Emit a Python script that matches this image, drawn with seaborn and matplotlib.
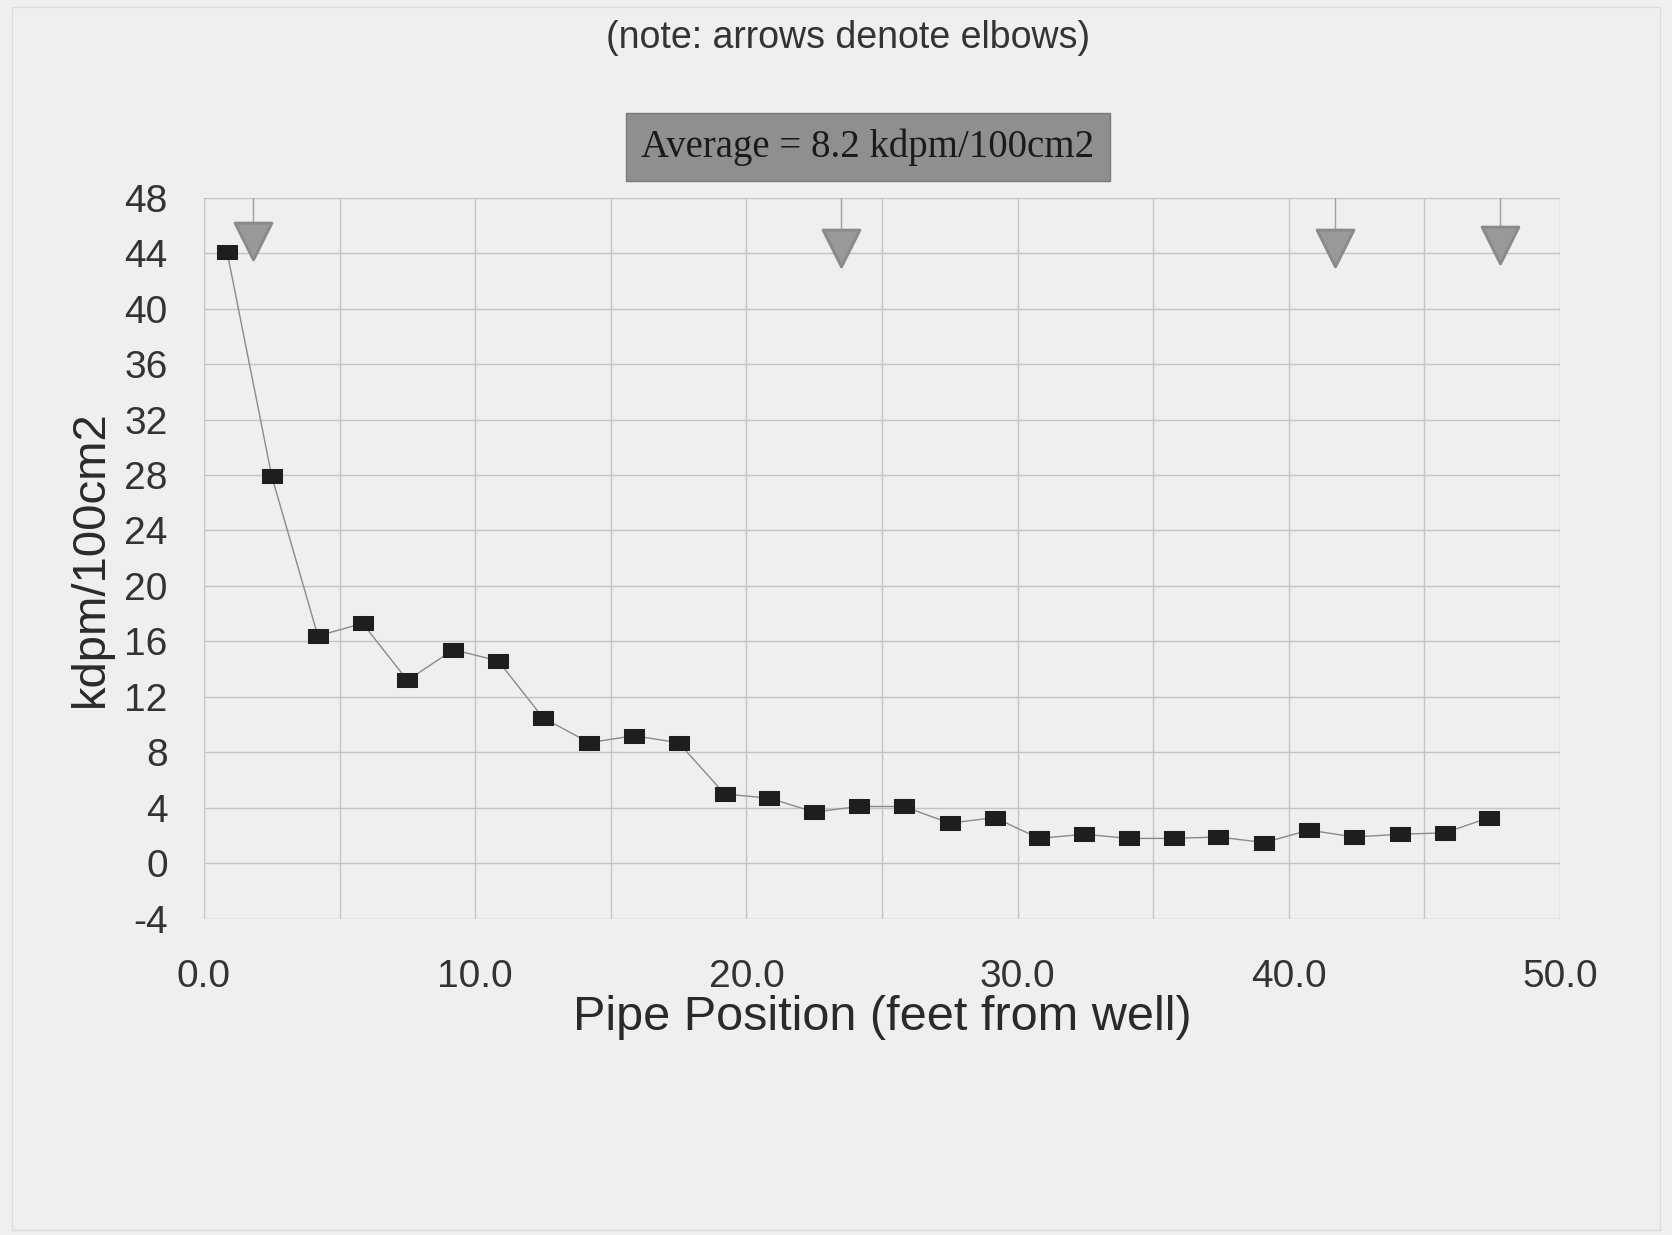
import numpy as np
import pandas as pd
import matplotlib
matplotlib.use('Agg')
import matplotlib.pyplot as plt
import seaborn as sns

# =============================================
# DATA
# =============================================
position_ft = [0.85, 2.5, 4.2, 5.85, 7.5, 9.2, 10.85, 12.5, 14.2, 15.85,
               17.5, 19.2, 20.85, 22.5, 24.15, 25.8, 27.5, 29.15, 30.8, 32.45,
               34.1, 35.75, 37.4, 39.1, 40.75, 42.4, 44.1, 45.75, 47.4]
kdpm = [44.1, 27.9, 16.4, 17.3, 13.2, 15.4, 14.6, 10.5, 8.7, 9.2,
        8.7, 5.0, 4.7, 3.7, 4.1, 4.1, 2.9, 3.3, 1.8, 2.1,
        1.8, 1.8, 1.9, 1.5, 2.4, 1.9, 2.1, 2.2, 3.3]
elbow_ft = [1.8, 23.5, 41.7, 47.8]
elbow_y = [44.9, 44.4, 44.4, 44.6]
average_label = "Average = 8.2 kdpm/100cm2"
note_text = "(note: arrows denote elbows)"

df = pd.DataFrame({'Position': position_ft, 'kdpm': kdpm})

# =============================================
# STYLE
# =============================================
sns.set_style('whitegrid')
plt.rcParams['font.family'] = ['Liberation Sans', 'DejaVu Sans']
plt.rcParams['axes.unicode_minus'] = False
bg = '#efefed'

fig = plt.figure(figsize=(16.72, 12.35), dpi=100, facecolor=bg)
ax = fig.add_axes([0.122, 0.256, 0.811, 0.584])
ax.set_facecolor(bg)

# faint frame round the page, like the scan
fig.patches.append(plt.Rectangle((0.007, 0.004), 0.986, 0.99, transform=fig.transFigure,
                                 fill=False, edgecolor='#dcdcda', linewidth=1.0))

# rectangular marker, a bit wider than tall
rect = [(-1.3, -1), (1.3, -1), (1.3, 1), (-1.3, 1), (-1.3, -1)]
sns.lineplot(data=df, x='Position', y='kdpm', ax=ax, color='#8a8a8a', linewidth=1.0,
             marker=rect, markersize=14, markerfacecolor='#1e1e1e',
             markeredgecolor='#1e1e1e', zorder=3)

# elbow arrows: thin line from top plus grey triangle
for xe, ye in zip(elbow_ft, elbow_y):
    ax.plot([xe, xe], [48, ye], color='#a0a0a0', linewidth=1.0, zorder=2)
sns.scatterplot(x=elbow_ft, y=elbow_y, ax=ax, marker='v', s=700,
                color='#999999', edgecolor='#8a8a8a', zorder=4, legend=False)

ax.set_xlim(0, 50)
ax.set_ylim(-4, 48)
ax.set_xticks(np.arange(0, 51, 10))
ax.set_xticklabels([f'{v:.1f}' for v in np.arange(0, 51, 10)])
ax.set_xticks(np.arange(5, 50, 10), minor=True)
ax.set_yticks(np.arange(-4, 49, 4))
ax.grid(which='both', color='#c4c4c4', linewidth=1.0)
for s in ax.spines.values():
    s.set_visible(False)
ax.tick_params(axis='both', which='both', length=10, width=1.0, color='#c4c4c4',
               labelsize=28, labelcolor='#333333')
ax.tick_params(axis='y', pad=16)
ax.tick_params(axis='x', pad=19)

ax.set_xlabel('Pipe Position (feet from well)', fontsize=35, color='#2a2a2a', labelpad=0)
ax.set_ylabel('kdpm/100cm2', fontsize=34, color='#2a2a2a', labelpad=8)

fig.text(0.507, 0.969, note_text, ha='center', va='center', fontsize=27, color='#333333')
fig.text(0.519, 0.881, average_label, ha='center', va='center', fontsize=28,
         family=['Liberation Serif', 'DejaVu Serif'], color='#1a1a1a',
         bbox=dict(boxstyle='square,pad=0.4', facecolor='#8f8f8f', edgecolor='#7a7a7a'))

fig.savefig('out.png', dpi=100, facecolor=bg)
